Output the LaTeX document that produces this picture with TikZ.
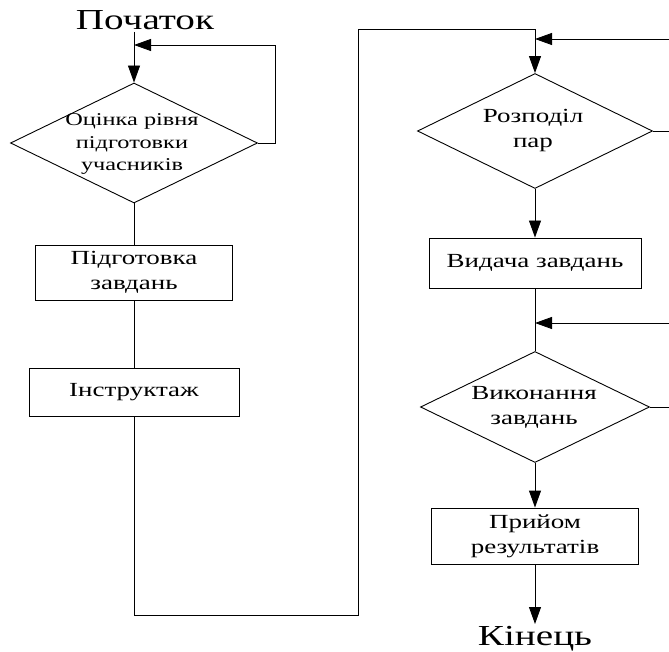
\documentclass[tikz,border=0pt]{standalone}
\usepackage{fontspec}
\setmainfont[FakeStretch=1.35]{Liberation Serif}
\usetikzlibrary{shapes.geometric,arrows.meta}
\begin{document}
\begin{tikzpicture}[x=1pt,y=-1pt,
  line/.style={draw=black,line width=0.9pt},
  arr/.style={line,-{Triangle[length=17pt,width=12pt]}},
  dia/.style={diamond,line,inner sep=0pt,minimum width=#1},
  boxn/.style={rectangle,line,inner sep=0pt,align=center,font=\fontsize{20}{25}\selectfont},
  txt/.style={align=center,inner sep=0pt,font=\fontsize{20}{25}\selectfont},
  txtsm/.style={align=center,inner sep=0pt,font=\fontsize{18}{22.5}\selectfont},
  term/.style={inner sep=2pt,font=\fontsize{29}{32}\selectfont}]
\useasboundingbox (0,0) rectangle (669,652);
\clip (0,0) rectangle (669,652);
% left column
\node[term] (start) at (145,20) {Початок};
\node[dia=247pt,minimum height=120pt] (d1) at (134,143) {};
\node[txtsm] (d1t) at (132,144) {Оцінка рівня\\підготовки\\учасників};
\node[boxn,minimum width=197pt,minimum height=55pt] (b1) at (134,272.5) {Підготовка\\завдань};
\node[boxn,minimum width=210pt,minimum height=48pt] (b2) at (134,392) {Інструктаж};
\coordinate (j1) at (134,45);
\coordinate (c1) at (358,615);
\coordinate (c2) at (358,29);
% right column
\node[dia=235pt,minimum height=115pt] (d2) at (535,131) {};
\node[txt] (d2t) at (533,131) {Розподіл\\пар};
\node[boxn,minimum width=212pt,minimum height=50pt] (b3) at (535,263) {Видача завдань};
\node[dia=229pt,minimum height=111pt] (d3) at (535,407) {};
\node[txt] (d3t) at (534,407) {Виконання\\завдань};
\node[boxn,minimum width=207pt,minimum height=56pt] (b4) at (535,536) {Прийом\\результатів};
\node[term,anchor=north] (end) at (535,624) {Кінець};
\coordinate (j2) at (535,39);
\coordinate (j3) at (535,323);
% connectors
\draw[arr] (start.south -| d1.north) -- (d1.north);
\draw[arr] (d1.east) -- ++(17,0) |- (j1);
\draw[line] (d1.south) -- (b1.north);
\draw[line] (b1.south) -- (b2.north);
\draw[arr] (b2.south) |- (c1) -- (c2) -| (d2.north);
\draw[arr] (d2.east) -- ++(40,0) |- (j2);
\draw[arr] (d2.south) -- (b3.north);
\draw[line] (b3.south) -- (d3.north);
\draw[arr] (d3.east) -- ++(40,0) |- (j3);
\draw[arr] (d3.south) -- (b4.north);
\draw[arr] (b4.south) -- (end.north);
\end{tikzpicture}
\end{document}
